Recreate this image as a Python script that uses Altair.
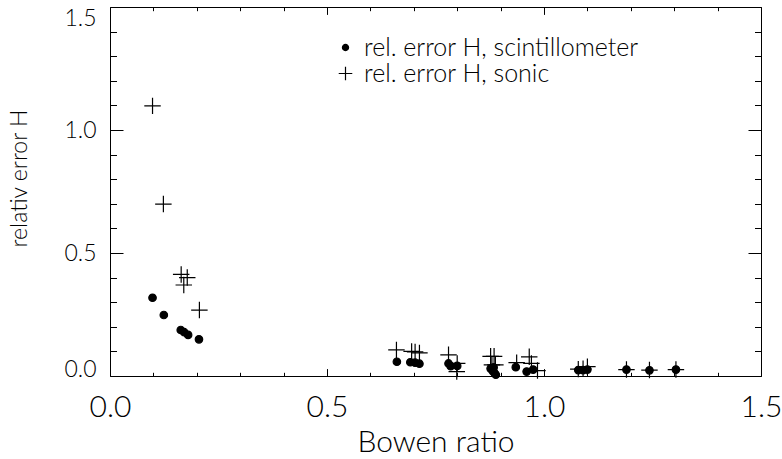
import altair as alt
import pandas as pd

# --- data ---
scint_x = [0.098, 0.124, 0.163, 0.171, 0.180, 0.205, 0.661, 0.692, 0.703, 0.713,
           0.780, 0.785, 0.800, 0.877, 0.882, 0.886, 0.889, 0.884, 0.935, 0.960,
           0.975, 1.079, 1.090, 1.100, 1.190, 1.243, 1.304]
scint_y = [0.318, 0.248, 0.187, 0.178, 0.167, 0.149, 0.058, 0.056, 0.054, 0.050,
           0.051, 0.040, 0.041, 0.030, 0.020, 0.012, 0.005, 0.035, 0.036, 0.018,
           0.026, 0.024, 0.024, 0.026, 0.026, 0.023, 0.026]
sonic_x = [0.098, 0.123, 0.164, 0.178, 0.170, 0.206, 0.660, 0.695, 0.703, 0.713,
           0.780, 0.800, 0.799, 0.877, 0.885, 0.880, 0.888, 0.937, 0.966, 0.971,
           0.985, 1.079, 1.090, 1.100, 1.190, 1.243, 1.304]
sonic_y = [1.098, 0.699, 0.413, 0.400, 0.370, 0.268, 0.106, 0.100, 0.098, 0.094,
           0.086, 0.051, 0.018, 0.080, 0.080, 0.045, 0.045, 0.054, 0.078, 0.051,
           0.022, 0.028, 0.030, 0.038, 0.026, 0.024, 0.026]
series_names = ["rel. error H, scintillometer", "rel. error H, sonic"]
major_ticks = [0.0, 0.5, 1.0, 1.5]
minor_ticks = [0.0, 0.1, 0.2, 0.3, 0.4, 0.5, 0.6, 0.7, 0.8, 0.9, 1.0, 1.1, 1.2, 1.3, 1.4, 1.5]
x_title = "Bowen ratio"
y_title = "relativ error H"

df = pd.concat([
    pd.DataFrame({"bowen": scint_x, "err": scint_y, "series": series_names[0]}),
    pd.DataFrame({"bowen": sonic_x, "err": sonic_y, "series": series_names[1]}),
], ignore_index=True)

W, H = 651, 369
FONT = "Lato"
FW = 300
CROSS = "M-2.2,0H2.2M0,-2.2V2.2"

xscale = alt.Scale(domain=[0, 1.5], nice=False, zero=False)
yscale = alt.Scale(domain=[0, 1.5], nice=False, zero=False)

is_major = "abs(datum.value*2 - round(datum.value*2)) < 0.001"

legend = alt.Legend(
    title=None, orient="none", legendX=223, legendY=28,
    labelFont=FONT, labelFontWeight=FW, labelFontSize=25, labelColor="black",
    labelLimit=0,
    symbolSize=38, symbolStrokeColor="black", symbolStrokeWidth=1.2,
    labelOffset=6, rowPadding=0, padding=0,
)

points = alt.Chart(df).mark_point(
    filled=False, size=56, strokeWidth=1.2, opacity=1
).encode(
    x=alt.X("bowen:Q", scale=xscale, axis=alt.Axis(
        orient="bottom", values=major_ticks, format=".1f", ticks=False,
        domain=False, grid=False, labelFlush=False,
        labelFont=FONT, labelFontWeight=FW, labelFontSize=30, labelColor="black",
        labelPadding=16, title=x_title, titleFont=FONT, titleFontWeight=FW,
        titleFontSize=30, titleColor="black", titlePadding=5)),
    y=alt.Y("err:Q", scale=yscale, axis=alt.Axis(
        orient="left", values=major_ticks, format=".1f", ticks=False,
        domain=False, grid=False, labelFlush=True,
        labelOffset={"condition": {"test": "datum.value == 0", "value": 5}, "value": 0},
        labelFont=FONT, labelFontWeight=FW, labelFontSize=23, labelColor="black",
        labelPadding=14, title=y_title, titleFont=FONT, titleFontWeight=FW,
        titleFontSize=23, titleColor="black", titlePadding=32, titleY=171)),
    shape=alt.Shape("series:N", scale=alt.Scale(domain=series_names, range=["circle", CROSS]),
                    legend=legend),
    fill=alt.Fill("series:N", scale=alt.Scale(domain=series_names, range=["black", "transparent"]),
                  legend=legend),
    stroke=alt.Stroke("series:N", scale=alt.Scale(domain=series_names, range=["black", "black"]),
                      legend=legend),
)


def tick_axis(orient, offset, major, minor):
    return alt.Axis(
        orient=orient, offset=offset, values=minor_ticks, labels=False,
        domain=False, grid=False, title=None, tickColor="black", tickWidth=1,
        tickSize={"condition": {"test": is_major, "value": major}, "value": minor},
    )


ticks_in_a = alt.Chart(df).mark_point(opacity=0).encode(
    x=alt.X("bowen:Q", scale=xscale, axis=tick_axis("top", -H, 7.4, 3.7)),
    y=alt.Y("err:Q", scale=yscale, axis=tick_axis("right", -W, 13, 6.5)),
)
ticks_in_b = alt.Chart(df).mark_point(opacity=0).encode(
    x=alt.X("bowen:Q", scale=xscale, axis=tick_axis("bottom", -H, 7.4, 3.7)),
    y=alt.Y("err:Q", scale=yscale, axis=tick_axis("left", -W, 13, 6.5)),
)

chart = alt.layer(points, ticks_in_a, ticks_in_b).resolve_axis(
    x="independent", y="independent"
).properties(
    width=W, height=H,
    autosize=alt.AutoSizeParams(type="none"),
    padding={"left": 110, "top": 7, "right": 21, "bottom": 83},
    background="white",
).configure_view(stroke="black", strokeWidth=1)

chart.save("out.html", embed_options={"renderer": "svg", "actions": False})
